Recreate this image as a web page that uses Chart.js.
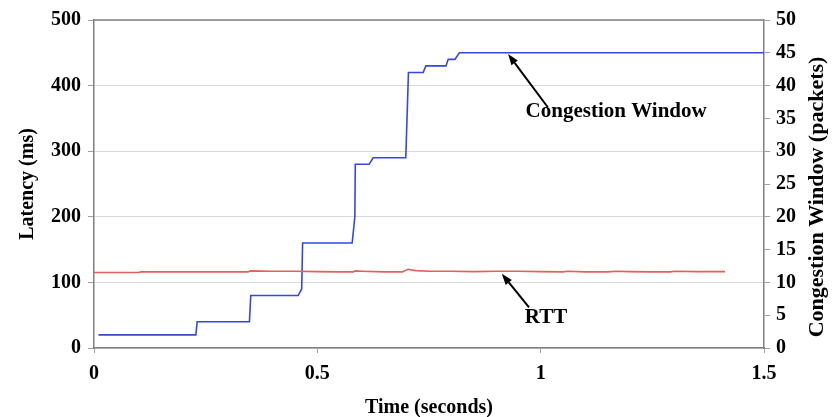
<!DOCTYPE html>
<html><head><meta charset="utf-8">
<script src="https://cdn.jsdelivr.net/npm/chart.js@4/dist/chart.umd.min.js"></script>
<style>html,body{margin:0;padding:0;background:#fff}</style>
</head><body>
<canvas id="c" width="832" height="417"></canvas>
<script>
// ---- data ----
const cwndTime    = [0.01,0.228,0.231,0.348,0.351,0.457,0.465,0.467,0.578,0.584,0.585,0.616,0.625,0.698,0.704,0.737,0.743,0.788,0.793,0.808,0.818,1.5];
const cwndPackets = [2,2,4,4,8,8,9,16,16,20,28,28,29,29,42,42,43,43,44,44,45,45];
const rttTime = [0,0.1,0.105,0.2,0.3,0.345,0.35,0.4,0.45,0.5,0.55,0.58,0.585,0.6,0.65,0.69,0.703,0.72,0.75,0.8,0.85,0.9,0.95,1.0,1.05,1.06,1.1,1.15,1.17,1.2,1.25,1.29,1.3,1.35,1.413];
const rttMs   = [115,115,116,116,116,116,117.5,117,117,116.5,116,116,117.5,117,116,116,120,118,117,117,116.5,117,117,116.5,116,117,116,116,117,116.5,116,116,117,116.5,116.5];
const xTicks = [0,0.5,1,1.5];
const xTickLabels = ['0','0.5','1','1.5'];
const latencyTicks = [0,100,200,300,400,500];
const cwndTicks = [0,5,10,15,20,25,30,35,40,45,50];
const xTitle = 'Time (seconds)';
const yTitle = 'Latency (ms)';
const y1Title = 'Congestion Window (packets)';
// annotation labels: text, text anchor (time, latency), arrow tail, arrow head
const annTexts = ['Congestion Window','RTT'];
const annTextPos = [[1.169,360],[1.012,47]];
const annTail = [[1.016,367],[0.974,62]];
const annHead = [[0.927,448],[0.913,113]];

const FAM = '"Liberation Serif","Times New Roman",serif';
const tickFont = {family:FAM, size:20, weight:'bold'};

const extras = {
  id:'extras',
  afterDraw(chart){
    const {ctx, chartArea:a, scales} = chart;
    const x = scales.x, y = scales.y;
    ctx.save();
    // top border
    ctx.strokeStyle = '#808080'; ctx.lineWidth = 1.5;
    ctx.beginPath(); ctx.moveTo(a.left, a.top); ctx.lineTo(a.right, a.top); ctx.stroke();
    // right title (reads bottom-to-top)
    ctx.fillStyle = '#000';
    ctx.font = 'bold 22px ' + FAM;
    ctx.textAlign = 'center'; ctx.textBaseline = 'middle';
    ctx.translate(817, 197); ctx.rotate(-Math.PI/2);
    ctx.fillText(y1Title, 0, 0);
    ctx.restore();
    // annotations
    ctx.save();
    for (let i=0;i<annTexts.length;i++){
      const tx = x.getPixelForValue(annTextPos[i][0]), ty = y.getPixelForValue(annTextPos[i][1]);
      ctx.fillStyle = '#000';
      ctx.font = 'bold 21px ' + FAM;
      ctx.textAlign='center'; ctx.textBaseline='middle';
      ctx.fillText(annTexts[i], tx, ty);
      const x0 = x.getPixelForValue(annTail[i][0]), y0 = y.getPixelForValue(annTail[i][1]);
      const x1 = x.getPixelForValue(annHead[i][0]), y1 = y.getPixelForValue(annHead[i][1]);
      const ang = Math.atan2(y1-y0, x1-x0);
      const L = 11, W = 4;
      const bx = x1 - L*Math.cos(ang), by = y1 - L*Math.sin(ang);
      ctx.strokeStyle='#000'; ctx.lineWidth=2;
      ctx.beginPath(); ctx.moveTo(x0,y0); ctx.lineTo(bx,by); ctx.stroke();
      ctx.beginPath();
      ctx.moveTo(x1,y1);
      ctx.lineTo(bx + W*Math.sin(ang), by - W*Math.cos(ang));
      ctx.lineTo(bx - W*Math.sin(ang), by + W*Math.cos(ang));
      ctx.closePath(); ctx.fill();
    }
    ctx.restore();
  }
};

new Chart(document.getElementById('c'), {
  type:'line',
  data:{
    datasets:[
      {label:'RTT', data: rttTime.map((t,i)=>({x:t,y:rttMs[i]})), yAxisID:'y',
       borderColor:'rgb(226,96,86)', borderWidth:1.6, pointRadius:0, tension:0, fill:false},
      {label:'Congestion Window', data: cwndTime.map((t,i)=>({x:t,y:cwndPackets[i]})), yAxisID:'y1',
       borderColor:'rgb(52,72,222)', borderWidth:1.6, pointRadius:0, tension:0, fill:false}
    ]
  },
  options:{
    responsive:false, animation:false, devicePixelRatio:1,
    layout:{padding:{top:20,left:0,right:0,bottom:0}},
    plugins:{legend:{display:false}, tooltip:{enabled:false}},
    scales:{
      x:{type:'linear', min:0, max:1.5,
         afterBuildTicks:s=>{s.ticks = xTicks.map(v=>({value:v}));},
         afterFit:s=>{s.height=69;},
         ticks:{font:tickFont, color:'#000', padding:9, maxRotation:0, callback:(v,i)=>xTickLabels[i]},
         grid:{drawOnChartArea:false, tickLength:5, color:'#a0a0a0'},
         border:{color:'#808080', width:1.5},
         title:{display:true, text:xTitle, color:'#000', font:{family:FAM,size:20,weight:'bold',lineHeight:0.9}, padding:{top:0,bottom:0}}
      },
      y:{position:'left', min:0, max:500,
         afterBuildTicks:s=>{s.ticks = latencyTicks.map(v=>({value:v}));},
         afterFit:s=>{s.width=94;},
         ticks:{font:tickFont, color:'#000', padding:7},
         grid:{color:'#d9d9d9', tickColor:'#a0a0a0', tickLength:6},
         border:{color:'#808080', width:1.5},
         title:{display:true, text:yTitle, color:'#000', font:{family:FAM,size:20,weight:'bold',lineHeight:1}, padding:{top:18,bottom:0}}
      },
      y1:{position:'right', min:0, max:50,
         afterBuildTicks:s=>{s.ticks = cwndTicks.map(v=>({value:v}));},
         afterFit:s=>{s.width=68;},
         ticks:{font:tickFont, color:'#000', padding:6},
         grid:{drawOnChartArea:false, color:'#a0a0a0', tickLength:6},
         border:{color:'#808080', width:1.5}
      }
    }
  },
  plugins:[extras]
});
</script>
</body></html>
